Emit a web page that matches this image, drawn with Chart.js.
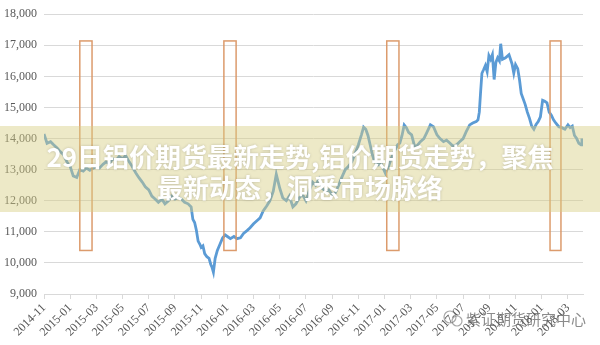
<!DOCTYPE html>
<html>
<head>
<meta charset="utf-8">
<script src="https://cdn.jsdelivr.net/npm/chart.js@4/dist/chart.umd.min.js"></script>
<style>
body { margin: 0; background: #fff; }
</style>
</head>
<body>
<canvas id="canvas" width="600" height="345"></canvas>
<script>
// aluminium futures price, roughly weekly
var dates = [
	'2014-11-01','2014-11-08','2014-11-16','2014-11-23','2014-12-01','2014-12-08','2014-12-16','2014-12-23',
	'2015-01-01','2015-01-08','2015-01-16','2015-01-23','2015-02-01','2015-02-08','2015-02-16','2015-02-23',
	'2015-03-01','2015-03-08','2015-03-16','2015-03-23','2015-04-01','2015-04-08','2015-04-16','2015-04-23',
	'2015-05-01','2015-05-08','2015-05-16','2015-05-23','2015-06-01','2015-06-08','2015-06-16','2015-06-23',
	'2015-07-01','2015-07-08','2015-07-16','2015-07-23','2015-08-01','2015-08-08','2015-08-16','2015-08-23',
	'2015-09-01','2015-09-08','2015-09-16','2015-09-23','2015-10-01','2015-10-08','2015-10-12','2015-10-16',
	'2015-10-20','2015-10-24','2015-10-28','2015-11-01','2015-11-05','2015-11-09','2015-11-14','2015-11-19',
	'2015-11-23','2015-11-26','2015-11-29','2015-12-03','2015-12-08','2015-12-14','2015-12-20','2015-12-26',
	'2016-01-01','2016-01-08','2016-01-16','2016-01-23','2016-02-01','2016-02-08','2016-02-16','2016-02-23',
	'2016-03-01','2016-03-08','2016-03-16','2016-03-23','2016-04-01','2016-04-08','2016-04-16','2016-04-23',
	'2016-05-01','2016-05-08','2016-05-16','2016-05-23','2016-06-01','2016-06-08','2016-06-16','2016-06-23',
	'2016-07-01','2016-07-08','2016-07-16','2016-07-23','2016-08-01','2016-08-08','2016-08-16','2016-08-23',
	'2016-09-01','2016-09-08','2016-09-16','2016-09-23','2016-10-01','2016-10-08','2016-10-16','2016-10-23',
	'2016-11-01','2016-11-08','2016-11-13','2016-11-18','2016-11-23','2016-11-28','2016-12-03','2016-12-08',
	'2016-12-16','2016-12-23','2016-12-28','2017-01-03','2017-01-10','2017-01-16','2017-01-23','2017-02-01',
	'2017-02-06','2017-02-11','2017-02-16','2017-02-21','2017-02-26','2017-03-03','2017-03-10','2017-03-16',
	'2017-03-23','2017-04-01','2017-04-08','2017-04-16','2017-04-23','2017-05-01','2017-05-08','2017-05-16',
	'2017-05-23','2017-06-01','2017-06-08','2017-06-16','2017-06-23','2017-07-01','2017-07-08','2017-07-16',
	'2017-07-23','2017-08-01','2017-08-05','2017-08-08','2017-08-11','2017-08-14','2017-08-18','2017-08-22',
	'2017-08-26','2017-08-30','2017-09-04','2017-09-08','2017-09-12','2017-09-16','2017-09-20','2017-09-24',
	'2017-09-27','2017-10-01','2017-10-08','2017-10-16','2017-10-23','2017-10-27','2017-11-01','2017-11-06',
	'2017-11-10','2017-11-14','2017-11-18','2017-11-23','2017-11-28','2017-12-03','2017-12-08','2017-12-13',
	'2017-12-18','2017-12-23','2017-12-28','2018-01-03','2018-01-08','2018-01-13','2018-01-18','2018-01-23',
	'2018-01-28','2018-02-03','2018-02-10','2018-02-17','2018-02-24','2018-03-01','2018-03-06','2018-03-11',
	'2018-03-16','2018-03-21','2018-03-26','2018-03-31','2018-04-03'
];
var prices = [
	14150,13850,13900,13800,13700,13580,13480,13260,
	13100,12800,12750,13000,12950,13050,12980,13040,
	13100,13050,13170,13250,13200,13350,13300,13420,
	13350,13450,13250,13100,12900,12750,12600,12450,
	12350,12150,12050,11950,12050,11900,12000,12150,
	12050,12100,12050,11950,11900,11800,11400,11300,
	11050,10700,10600,10500,10550,10300,10200,10150,
	9950,9850,9700,10150,10400,10600,10800,10900,
	10850,10780,10850,10780,10810,10950,11040,11130,
	11260,11350,11450,11670,11830,11990,12300,12850,
	12400,12090,12000,12150,11800,11900,12100,12200,
	12000,12300,12600,12500,12700,12400,12300,12350,
	12200,12250,12500,12750,13000,13100,13250,13500,
	13800,14120,14370,14300,14100,13800,13480,13260,
	13150,13200,13040,12880,13100,13350,13580,13800,
	13850,14100,14440,14350,14200,14120,13740,13780,
	13900,14000,14200,14440,14380,14120,14000,13900,
	13950,13850,13750,13800,13900,14000,14220,14440,
	14500,14550,14600,14850,15500,16100,16220,16350,
	16150,16670,16550,16700,15900,16450,16600,16500,
	17050,16550,16600,16700,16400,16100,16380,16250,
	15900,15450,15300,15100,14850,14650,14400,14300,
	14450,14550,14700,15230,15200,15150,14850,14750,
	14600,14500,14380,14350,14300,14440,14350,14400,
	14100,14000,13850,13800,14000
];
var tickLabels = ['2014-11','2015-01','2015-03','2015-05','2015-07','2015-09','2015-11',
	'2016-01','2016-03','2016-05','2016-07','2016-09','2016-11',
	'2017-01','2017-03','2017-05','2017-07','2017-09','2017-11','2018-01','2018-03'];
var boxFrom = ['2015-01-23','2015-12-23','2017-01-06','2018-01-20'];
var boxTo = ['2015-02-21','2016-01-21','2017-02-04','2018-02-15'];
var boxLow = 10400;
var boxHigh = 17140;
var titleLines = ['29日铝价期货最新走势,铝价期货走势，聚焦', '最新动态，洞悉市场脉络'];
var watermark = '紫证期货研究中心';

function monthIndex(s) {
	var p = s.split('-');
	return (parseInt(p[0]) - 2014) * 12 + (parseInt(p[1]) - 11) + (parseInt(p[2]) - 1) / 30;
}

var points = [];
for (var i = 0; i < dates.length; i++) {
	points.push({ x: monthIndex(dates[i]), y: prices[i] });
}

var overlay = {
	id: 'overlay',
	afterDatasetsDraw: function(chart) {
		var ctx = chart.ctx, xs = chart.scales.x, ys = chart.scales.y;
		ctx.save();
		ctx.strokeStyle = 'rgba(218,150,100,0.95)';
		ctx.lineWidth = 1.5;
		for (var i = 0; i < boxFrom.length; i++) {
			var x1 = xs.getPixelForValue(monthIndex(boxFrom[i]));
			var x2 = xs.getPixelForValue(monthIndex(boxTo[i]));
			var y1 = ys.getPixelForValue(boxHigh);
			var y2 = ys.getPixelForValue(boxLow);
			ctx.strokeRect(x1, y1, x2 - x1, y2 - y1);
		}
		ctx.restore();
	},
	afterDraw: function(chart) {
		var ctx = chart.ctx;
		ctx.save();
		// banner band
		ctx.fillStyle = 'rgba(214,206,130,0.45)';
		ctx.fillRect(0, 126, 600, 86);
		ctx.font = 'bold 26px "Noto Sans CJK SC"';
		ctx.textAlign = 'center';
		ctx.textBaseline = 'middle';
		ctx.shadowColor = 'rgba(0,0,0,0.2)';
		ctx.shadowBlur = 3;
		ctx.fillStyle = '#ffffff';
		ctx.fillText(titleLines[0], 300, 157);
		ctx.fillText(titleLines[1], 300, 188);
		ctx.shadowBlur = 0;
		ctx.shadowColor = 'transparent';
		// watermark
		ctx.strokeStyle = 'rgba(110,110,110,0.6)';
		ctx.lineWidth = 1.2;
		ctx.beginPath();
		ctx.arc(450, 317, 6, 0, Math.PI * 2);
		ctx.stroke();
		ctx.beginPath();
		ctx.arc(457, 321, 5, 0, Math.PI * 2);
		ctx.stroke();
		ctx.font = '15px "Noto Sans CJK SC"';
		ctx.textAlign = 'left';
		ctx.fillStyle = 'rgba(90,90,90,0.7)';
		ctx.fillText(watermark, 466, 319);
		ctx.restore();
	}
};

var ctx = document.getElementById('canvas').getContext('2d');
var config = {
	type: 'line',
	data: {
		datasets: [{
			data: points,
			borderColor: '#5b9bd5',
			borderWidth: 2.8,
			pointRadius: 0,
			tension: 0,
			fill: false
		}]
	},
	options: {
		responsive: false,
		animation: false,
		layout: { padding: { top: 11, right: 17, bottom: 0, left: 0 } },
		plugins: {
			legend: { display: false },
			tooltip: { enabled: false }
		},
		scales: {
			x: {
				type: 'linear',
				min: 0,
				max: 41.15,
				afterFit: function(scale) { scale.height = 51; },
				border: { color: '#d9d9d9' },
				grid: { drawOnChartArea: false, drawTicks: true, tickLength: 5, color: '#d9d9d9' },
				ticks: {
					stepSize: 2,
					includeBounds: false,
					autoSkip: false,
					minRotation: 45,
					maxRotation: 45,
					padding: 2,
					color: '#595959',
					font: { family: '"Liberation Serif"', size: 12 },
					callback: function(v) { return tickLabels[v / 2] || ''; }
				}
			},
			y: {
				min: 9000,
				max: 18000,
				afterFit: function(scale) { scale.width = 44; },
				border: { display: false },
				grid: { color: '#d9d9d9', drawTicks: false },
				ticks: {
					stepSize: 1000,
					padding: 7,
					color: '#595959',
					font: { family: '"Liberation Serif"', size: 12 },
					callback: function(v) { return v.toLocaleString('en-US'); }
				}
			}
		}
	},
	plugins: [overlay]
};
window.myLine = new Chart(ctx, config);
</script>
</body>
</html>
